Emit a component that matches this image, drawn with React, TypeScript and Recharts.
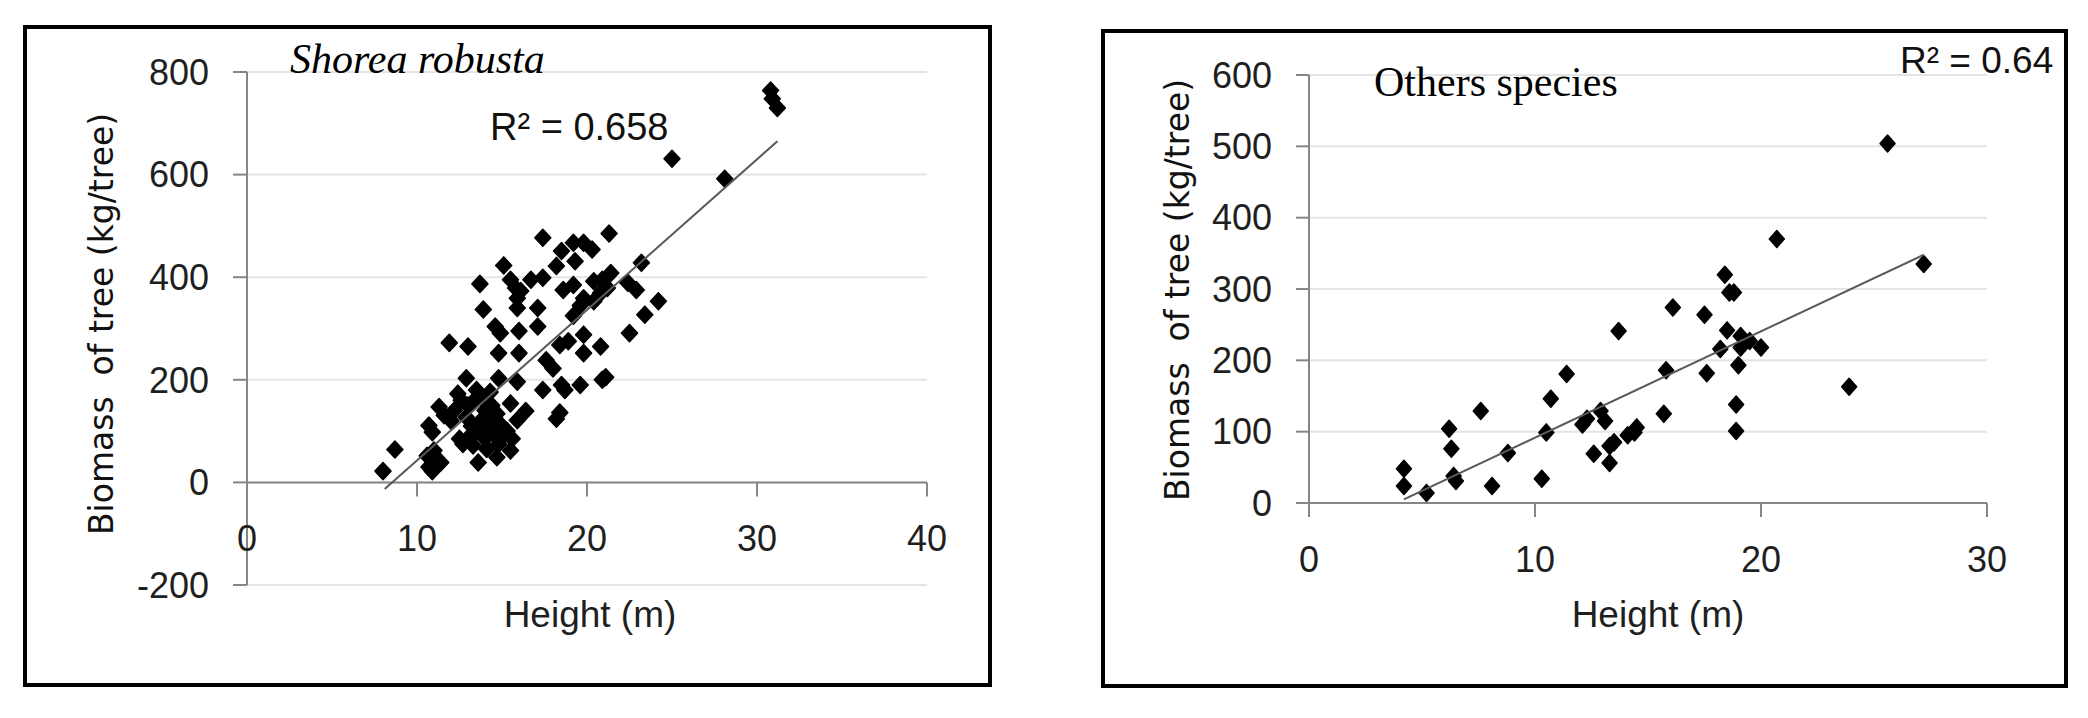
import { ScatterChart, Scatter, XAxis, YAxis, CartesianGrid, ReferenceLine } from 'recharts';

// Shorea robusta: height (m) and biomass (kg/tree)
const shoreaHeight = [
  8.0, 8.7, 10.6, 10.7, 10.9, 11.0, 11.2, 11.4, 10.7, 10.9, 11.3, 11.6, 11.9, 12.0, 12.2, 12.4,
  12.5, 12.7, 12.9, 12.9, 13.0, 13.0, 13.2, 13.3, 13.3, 13.5, 13.5, 13.6, 13.7, 13.7, 13.9, 13.8,
  14.0, 14.0, 14.1, 14.2, 14.3, 14.4, 14.5, 14.6, 14.7, 14.7, 14.8, 14.8, 14.8, 14.9, 15.0, 15.1,
  15.1, 15.3, 15.5, 15.5, 15.5, 15.6, 15.8, 15.9, 15.9, 15.9, 15.9, 16.0, 16.0, 16.1, 16.4, 16.7,
  17.1, 17.1, 17.4, 17.4, 17.4, 17.6, 18.0, 18.2, 18.4, 18.2, 18.4, 18.5, 18.5, 18.6, 18.7, 18.9,
  19.2, 19.2, 19.2, 19.3, 19.6, 19.6, 19.8, 19.8, 19.8, 19.8, 20.3, 20.4, 20.4, 20.8, 20.8, 20.9,
  20.9, 21.1, 21.2, 21.3, 21.4, 22.4, 22.5, 22.9, 23.2, 23.4, 24.2, 25.0, 28.1, 30.8, 30.9, 31.2,
  12.6, 13.1, 14.4,
];
const shoreaBiomass = [
  22, 64, 52, 30, 22, 62, 45, 39, 111, 98, 147, 131, 272, 120, 140, 173,
  85, 75, 127, 203, 265, 150, 110, 157, 72, 180, 100, 39, 118, 387, 337, 165,
  140, 85, 65, 110, 176, 150, 95, 304, 134, 49, 75, 203, 252, 291, 110, 92,
  423, 100, 62, 154, 395, 85, 379, 359, 121, 196, 340, 252, 295, 373, 139, 395,
  304, 340, 180, 399, 477, 238, 222, 124, 136, 422, 268, 190, 451, 375, 180, 275,
  325, 385, 467, 431, 345, 190, 288, 252, 359, 467, 454, 353, 392, 265, 369, 200,
  395, 205, 379, 485, 408, 389, 291, 375, 428, 327, 353, 631, 592, 764, 748, 730,
  160, 90, 120,
];
const shoreaTrendHeight = [8.1, 31.2];
const shoreaTrendBiomass = [-13, 665];

// Other species
const otherHeight = [
  4.2, 4.2, 5.2, 6.2, 6.3, 6.4, 6.5, 7.6, 8.1, 8.8, 10.3, 10.5, 10.7, 11.4, 12.1, 12.3,
  12.6, 12.9, 13.1, 13.3, 13.3, 13.5, 13.7, 14.1, 14.4, 14.5, 15.7, 15.8, 16.1, 17.5,
  17.6, 18.2, 18.4, 18.5, 18.6, 18.8, 18.9, 18.9, 19.0, 19.1, 19.1, 19.5, 20.0, 20.7,
  23.9, 25.6, 27.2,
];
const otherBiomass = [
  48, 24, 14, 104, 76, 38, 31, 129, 24, 70, 34, 99, 146, 181, 110, 118,
  69, 129, 115, 56, 80, 85, 241, 95, 99, 106, 125, 186, 274, 264,
  182, 216, 320, 242, 295, 295, 101, 138, 193, 234, 218, 227, 218, 370,
  163, 504, 335,
];
const otherTrendHeight = [4.2, 27.2];
const otherTrendBiomass = [5, 348];

const shoreaXTicks = [0, 10, 20, 30, 40];
const shoreaYTicks = [-200, 0, 200, 400, 600, 800];
const otherXTicks = [0, 10, 20, 30];
const otherYTicks = [0, 100, 200, 300, 400, 500, 600];

const toPoints = (xs: number[], ys: number[]) => xs.map((x, i) => ({ x, y: ys[i] }));

const shoreaData = toPoints(shoreaHeight, shoreaBiomass);
const shoreaTrend = toPoints(shoreaTrendHeight, shoreaTrendBiomass);
const otherData = toPoints(otherHeight, otherBiomass);
const otherTrend = toPoints(otherTrendHeight, otherTrendBiomass);

const AXIS = '#868686';
const GRID = '#e4e4e4';
const TEXT = '#1f1f1f';
const SANS = '"Liberation Sans", Arial, sans-serif';
const SERIF = '"Liberation Serif", "Times New Roman", serif';

const makeDiamond = (hw: number, hh: number) => (props: any) => {
  const { cx, cy } = props;
  if (cx == null || cy == null) return <g />;
  return (
    <polygon
      points={`${cx},${cy - hh} ${cx + hw},${cy} ${cx},${cy + hh} ${cx - hw},${cy}`}
      fill="#000"
      stroke="#000"
      strokeWidth={1.5}
      strokeLinejoin="round"
    />
  );
};

const noDot = () => <g />;

// x tick drawn at the zero line, which sits `lift` px above the plot bottom
const makeXTick = (lift: number) => (props: any) => {
  const { x, y, payload } = props;
  const zeroY = y - lift;
  return (
    <g>
      <line x1={x} x2={x} y1={zeroY} y2={zeroY + 14} stroke={AXIS} strokeWidth={2} />
      <text
        x={x}
        y={zeroY + 56}
        textAnchor="middle"
        dominantBaseline="central"
        fill={TEXT}
        fontSize={36}
        fontFamily={SANS}
      >
        {payload.value}
      </text>
    </g>
  );
};

// left panel geometry
const L_TOP = 72;
const L_BOTTOM = 585;
const L_LIFT = ((L_BOTTOM - L_TOP) * 200) / 1000;
// right panel geometry
const R_TOP = 75;
const R_BOTTOM = 503;

const yTickStyle = { fill: TEXT, fontSize: 36, fontFamily: SANS };

export default function App() {
  return (
    <div
      style={{
        position: 'absolute',
        left: 0,
        top: 0,
        width: 2088,
        height: 718,
        background: '#fff',
        overflow: 'hidden',
      }}
    >
      <div style={{ position: 'absolute', left: 0, top: 0 }}>
        <ScatterChart
          width={1000}
          height={718}
          margin={{ top: L_TOP, right: 73, bottom: 718 - L_BOTTOM - 60, left: 127 }}
        >
          <CartesianGrid vertical={false} stroke={GRID} strokeWidth={2} />
          <XAxis
            type="number"
            dataKey="x"
            domain={[0, 40]}
            ticks={shoreaXTicks}
            height={60}
            axisLine={false}
            tickLine={false}
            tickSize={0}
            tickMargin={0}
            tick={makeXTick(L_LIFT)}
          />
          <YAxis
            type="number"
            dataKey="y"
            domain={[-200, 800]}
            ticks={shoreaYTicks}
            width={120}
            axisLine={{ stroke: AXIS, strokeWidth: 2 }}
            tickLine={{ stroke: AXIS, strokeWidth: 2 }}
            tickSize={14}
            tickMargin={24}
            tick={yTickStyle}
          />
          <ReferenceLine y={0} stroke={AXIS} strokeWidth={2} />
          <Scatter data={shoreaData} shape={makeDiamond(8, 8.5)} isAnimationActive={false} />
          <Scatter
            data={shoreaTrend}
            line={{ stroke: '#595959', strokeWidth: 2 }}
            shape={noDot}
            isAnimationActive={false}
          />
        </ScatterChart>
      </div>

      <div style={{ position: 'absolute', left: 1050, top: 0 }}>
        <ScatterChart
          width={1038}
          height={718}
          margin={{ top: R_TOP, right: 101, bottom: 718 - R_BOTTOM - 60, left: 139 }}
        >
          <CartesianGrid vertical={false} stroke={GRID} strokeWidth={2} />
          <XAxis
            type="number"
            dataKey="x"
            domain={[0, 30]}
            ticks={otherXTicks}
            height={60}
            axisLine={false}
            tickLine={false}
            tickSize={0}
            tickMargin={0}
            tick={makeXTick(0)}
          />
          <YAxis
            type="number"
            dataKey="y"
            domain={[0, 600]}
            ticks={otherYTicks}
            width={120}
            axisLine={{ stroke: AXIS, strokeWidth: 2 }}
            tickLine={{ stroke: AXIS, strokeWidth: 2 }}
            tickSize={13}
            tickMargin={24}
            tick={yTickStyle}
          />
          <ReferenceLine y={0} stroke={AXIS} strokeWidth={2} />
          <Scatter data={otherData} shape={makeDiamond(7.5, 8.5)} isAnimationActive={false} />
          <Scatter
            data={otherTrend}
            line={{ stroke: '#595959', strokeWidth: 2 }}
            shape={noDot}
            isAnimationActive={false}
          />
        </ScatterChart>
      </div>

      <svg
        width={2088}
        height={718}
        style={{ position: 'absolute', left: 0, top: 0, pointerEvents: 'none' }}
      >
        <rect x={25} y={27} width={965} height={658} fill="none" stroke="#000" strokeWidth={4} />
        <rect x={1103} y={31} width={963} height={655} fill="none" stroke="#000" strokeWidth={4} />

        <text x={290} y={73} fontFamily={SERIF} fontStyle="italic" fontSize={42} fill="#000">
          Shorea robusta
        </text>
        <text x={490} y={140} fontFamily={SANS} fontSize={38} fill="#111">
          R² = 0.658
        </text>
        <text x={1374} y={96} fontFamily={SERIF} fontSize={42} fill="#000">
          Others species
        </text>
        <text x={1900} y={73} fontFamily={SANS} fontSize={37} fill="#111">
          R² = 0.64
        </text>

        <text x={590} y={627} textAnchor="middle" fontFamily={SANS} fontSize={37} fill={TEXT}>
          Height (m)
        </text>
        <text x={1658} y={627} textAnchor="middle" fontFamily={SANS} fontSize={37} fill={TEXT}>
          Height (m)
        </text>

        <text
          transform="translate(113,324) rotate(-90)"
          textAnchor="middle"
          fontFamily='"DejaVu Sans", Verdana, sans-serif'
          fontSize={33}
          fill="#111"
          style={{ whiteSpace: 'pre' }}
        >
          {'Biomass  of tree (kg/tree)'}
        </text>
        <text
          transform="translate(1189,290) rotate(-90)"
          textAnchor="middle"
          fontFamily='"DejaVu Sans", Verdana, sans-serif'
          fontSize={33}
          fill="#111"
          style={{ whiteSpace: 'pre' }}
        >
          {'Biomass  of tree (kg/tree)'}
        </text>
      </svg>
    </div>
  );
}
